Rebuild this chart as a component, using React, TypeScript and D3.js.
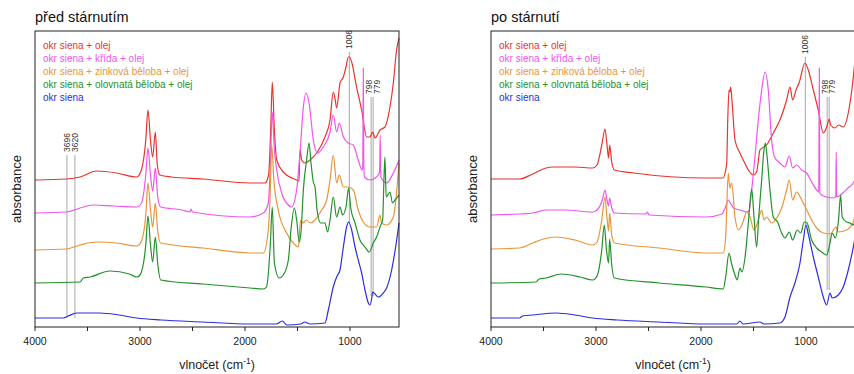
import React from "react";
import * as d3 from "d3";

type Pt = [number, number];

// Legend entries and their colours (same order in both panels)
const seriesNames = [
  "okr siena + olej",
  "okr siena + křída + olej",
  "okr siena + zinková běloba + olej",
  "okr siena + olovnatá běloba + olej",
  "okr siena",
];
const seriesColors = ["#e8352c", "#f055ee", "#e8953a", "#22922a", "#2a2ee0"];

const panelTitles = ["před stárnutím", "po stárnutí"];

// IR spectra, [wavenumber cm-1, absorbance (offset)] — before ageing
const beforeOil: Pt[] = [
  [4000, 1.47], [3698, 1.48], [3571, 1.5], [3413, 1.56], [3222, 1.54], [3032, 1.5], [2990, 1.56],
  [2945, 1.87], [2924, 2.17], [2900, 1.87], [2879, 1.7], [2854, 1.95], [2835, 1.62], [2810, 1.52],
  [2700, 1.5], [2400, 1.48], [1952, 1.44], [1810, 1.44], [1775, 1.52], [1755, 1.97], [1740, 2.45],
  [1720, 1.97], [1698, 1.67], [1635, 1.55], [1508, 1.47], [1486, 1.46], [1476, 1.77], [1460, 1.67],
  [1429, 1.64], [1381, 1.67], [1317, 1.74], [1238, 1.9], [1190, 2.07], [1159, 2.35], [1140, 2.27],
  [1127, 2.19], [1095, 2.44], [1063, 2.5], [1040, 2.59], [1016, 2.7], [1006, 2.7], [984, 2.65],
  [937, 2.4], [889, 2.17], [841, 1.9], [810, 1.9], [784, 1.95], [762, 1.89], [714, 1.97],
  [667, 2.0], [619, 2.2], [587, 2.44], [556, 2.77], [533, 2.89],
];
const beforeChalk: Pt[] = [
  [4000, 1.14], [3698, 1.15], [3571, 1.19], [3444, 1.22], [3250, 1.21], [3032, 1.2], [2990, 1.23],
  [2945, 1.52], [2924, 1.79], [2900, 1.52], [2879, 1.36], [2854, 1.59], [2830, 1.29], [2803, 1.2],
  [2600, 1.17], [2524, 1.15], [2514, 1.18], [2500, 1.15], [1952, 1.1], [1825, 1.14], [1778, 1.24],
  [1760, 1.57], [1740, 2.15], [1720, 1.77], [1698, 1.57], [1651, 1.34], [1587, 1.22], [1556, 1.2],
  [1508, 1.37], [1476, 1.74], [1444, 2.2], [1419, 2.34], [1387, 2.22], [1349, 1.87], [1311, 1.74],
  [1254, 1.8], [1190, 1.95], [1159, 2.12], [1127, 1.95], [1102, 2.04], [1063, 1.9], [1016, 1.84],
  [968, 1.82], [921, 1.67], [885, 1.57], [878, 1.6], [873, 2.59], [868, 1.6], [862, 1.5],
  [810, 1.47], [746, 1.5], [718, 1.55], [712, 1.92], [706, 1.5], [651, 1.44], [587, 1.54],
  [533, 1.67],
];
const beforeZinc: Pt[] = [
  [4000, 0.77], [3698, 0.78], [3571, 0.82], [3413, 0.85], [3222, 0.84], [3032, 0.81], [2990, 0.85],
  [2945, 1.12], [2924, 1.44], [2900, 1.17], [2879, 1.0], [2854, 1.24], [2830, 0.95], [2803, 0.84],
  [2400, 0.79], [1952, 0.74], [1825, 0.74], [1778, 0.97], [1760, 1.32], [1746, 1.82], [1725, 1.47],
  [1683, 1.17], [1603, 0.94], [1540, 0.84], [1492, 0.8], [1470, 1.07], [1450, 1.04], [1413, 1.07],
  [1380, 1.04], [1333, 1.07], [1270, 1.17], [1222, 1.27], [1190, 1.47], [1159, 1.72], [1127, 1.44],
  [1102, 1.52], [1063, 1.4], [1016, 1.4], [968, 1.37], [921, 1.17], [873, 1.05], [810, 1.0],
  [746, 1.0], [714, 1.12], [700, 1.04], [651, 1.02], [587, 1.1], [560, 1.3], [533, 1.64],
];
const beforeLead: Pt[] = [
  [4000, 0.44], [3571, 0.45], [3540, 0.49], [3476, 0.5], [3286, 0.56], [3100, 0.53], [3032, 0.5],
  [3000, 0.52], [2945, 0.82], [2924, 1.11], [2900, 0.82], [2879, 0.65], [2854, 0.9], [2830, 0.62],
  [2803, 0.47], [2400, 0.43], [1952, 0.39], [1825, 0.38], [1795, 0.4], [1760, 0.8], [1740, 1.2],
  [1720, 0.64], [1673, 0.49], [1635, 0.52], [1587, 0.67], [1562, 0.97], [1530, 1.19], [1508, 1.07],
  [1483, 0.85], [1465, 0.97], [1444, 1.37], [1413, 1.67], [1390, 1.84], [1371, 1.64], [1349, 1.45],
  [1333, 1.4], [1311, 1.15], [1279, 1.04], [1238, 1.04], [1213, 0.95], [1190, 1.07], [1159, 1.3],
  [1127, 1.1], [1095, 1.2], [1070, 1.12], [1038, 1.2], [1013, 1.39], [994, 1.2], [952, 1.04],
  [905, 0.87], [857, 0.8], [816, 0.75], [778, 0.84], [746, 0.9], [714, 1.0], [689, 1.07],
  [675, 1.52], [667, 1.7], [655, 1.3], [619, 1.35], [595, 1.24], [570, 1.27], [533, 1.32],
];
const beforeOchre: Pt[] = [
  [4000, 0.09], [3730, 0.09], [3683, 0.11], [3603, 0.14], [3381, 0.14], [3200, 0.12], [3032, 0.09],
  [2800, 0.07], [2400, 0.05], [1952, 0.03], [1700, 0.03], [1645, 0.06], [1600, 0.02], [1470, 0.03],
  [1429, 0.05], [1381, 0.03], [1238, 0.04], [1206, 0.17], [1159, 0.4], [1127, 0.5], [1095, 0.57],
  [1063, 0.8], [1032, 1.0], [1013, 1.05], [984, 0.97], [952, 0.8], [921, 0.67], [889, 0.54],
  [857, 0.37], [825, 0.24], [810, 0.22], [795, 0.27], [784, 0.35], [770, 0.34], [730, 0.3],
  [683, 0.34], [651, 0.39], [603, 0.57], [565, 0.8], [533, 1.04],
];

// IR spectra after ageing
const afterOil: Pt[] = [
  [4000, 1.48], [3730, 1.48], [3603, 1.53], [3476, 1.59], [3413, 1.6], [3200, 1.6], [3032, 1.59],
  [2990, 1.62], [2945, 1.82], [2914, 1.98], [2895, 1.82], [2880, 1.69], [2870, 1.82], [2850, 1.65],
  [2825, 1.57], [2640, 1.54], [1952, 1.49], [1788, 1.49], [1765, 1.57], [1755, 1.64], [1745, 2.07],
  [1733, 2.37], [1725, 2.35], [1717, 2.4], [1705, 2.27], [1676, 1.87], [1629, 1.74], [1597, 1.67],
  [1549, 1.57], [1502, 1.52], [1470, 1.55], [1438, 1.77], [1375, 1.82], [1311, 1.94], [1248, 2.07],
  [1184, 2.27], [1152, 2.4], [1127, 2.27], [1095, 2.37], [1063, 2.45], [1010, 2.64], [978, 2.57],
  [930, 2.37], [883, 2.17], [835, 1.94], [803, 2.0], [778, 2.08], [765, 2.02], [724, 1.99],
  [690, 2.02], [645, 2.0], [597, 2.14], [549, 2.5], [533, 2.67],
];
const afterChalk: Pt[] = [
  [4000, 1.12], [3730, 1.13], [3603, 1.14], [3476, 1.17], [3300, 1.17], [3032, 1.15], [2990, 1.17],
  [2940, 1.27], [2914, 1.37], [2895, 1.27], [2880, 1.21], [2870, 1.29], [2850, 1.19], [2825, 1.14],
  [2524, 1.13], [2510, 1.15], [2495, 1.12], [1952, 1.1], [1800, 1.13], [1770, 1.19], [1740, 1.27],
  [1720, 1.24], [1690, 1.19], [1629, 1.17], [1565, 1.15], [1540, 1.17], [1517, 1.37], [1486, 1.7],
  [1454, 2.07], [1422, 2.37], [1390, 2.55], [1359, 2.37], [1327, 1.87], [1300, 1.7], [1248, 1.64],
  [1200, 1.6], [1159, 1.71], [1127, 1.59], [1089, 1.62], [1041, 1.57], [993, 1.54], [946, 1.45],
  [898, 1.37], [878, 1.35], [873, 2.59], [868, 1.34], [851, 1.32], [803, 1.3], [730, 1.29],
  [716, 1.31], [712, 1.75], [708, 1.3], [650, 1.34], [600, 1.39], [549, 1.44], [533, 1.47],
];
const afterZinc: Pt[] = [
  [4000, 0.78], [3730, 0.79], [3603, 0.84], [3500, 0.88], [3381, 0.9], [3200, 0.87], [3032, 0.82],
  [2990, 0.85], [2945, 1.07], [2914, 1.3], [2895, 1.09], [2880, 0.96], [2870, 1.14], [2850, 0.92],
  [2825, 0.84], [2400, 0.79], [1952, 0.74], [1788, 0.74], [1765, 0.9], [1740, 1.54], [1725, 1.39],
  [1708, 1.44], [1676, 1.1], [1644, 0.97], [1603, 1.04], [1565, 1.15], [1533, 1.1], [1495, 0.97],
  [1454, 1.07], [1422, 1.17], [1400, 1.07], [1375, 1.1], [1327, 1.04], [1279, 1.09], [1232, 1.19],
  [1184, 1.37], [1159, 1.47], [1127, 1.27], [1089, 1.35], [1041, 1.27], [993, 1.17], [946, 1.07],
  [898, 0.99], [835, 0.94], [771, 0.93], [712, 1.0], [695, 0.95], [614, 0.97], [549, 1.05],
  [533, 1.12],
];
const afterLead: Pt[] = [
  [4000, 0.44], [3571, 0.45], [3540, 0.48], [3476, 0.49], [3333, 0.53], [3150, 0.5], [3032, 0.47],
  [2990, 0.51], [2945, 0.77], [2921, 1.02], [2900, 0.77], [2880, 0.64], [2870, 0.88], [2850, 0.62],
  [2825, 0.49], [2400, 0.44], [1952, 0.4], [1788, 0.38], [1765, 0.5], [1733, 0.74], [1710, 0.64],
  [1676, 0.52], [1655, 0.47], [1629, 0.59], [1610, 0.55], [1580, 0.7], [1549, 1.04], [1517, 1.38],
  [1495, 1.1], [1470, 0.8], [1450, 1.1], [1422, 1.47], [1400, 1.77], [1387, 1.84], [1370, 1.7],
  [1343, 1.37], [1311, 1.1], [1270, 1.05], [1232, 0.94], [1200, 0.89], [1159, 0.95], [1127, 0.87],
  [1083, 0.97], [1050, 0.94], [1016, 1.05], [990, 1.04], [946, 0.87], [898, 0.79], [851, 0.75],
  [803, 0.72], [771, 0.84], [750, 0.94], [721, 0.89], [690, 1.07], [670, 1.32], [655, 1.1],
  [614, 1.05], [580, 1.04], [549, 1.02], [533, 1.05],
];
const afterOchre: Pt[] = [
  [4000, 0.09], [3730, 0.09], [3698, 0.11], [3603, 0.12], [3381, 0.14], [3200, 0.12], [3032, 0.09],
  [2800, 0.07], [2400, 0.05], [1952, 0.03], [1660, 0.03], [1629, 0.06], [1600, 0.03], [1438, 0.05],
  [1400, 0.03], [1248, 0.04], [1200, 0.1], [1152, 0.3], [1105, 0.44], [1057, 0.64], [1025, 0.87],
  [1000, 1.02], [980, 0.94], [930, 0.7], [883, 0.5], [835, 0.3], [803, 0.22], [771, 0.34],
  [750, 0.29], [692, 0.32], [645, 0.4], [597, 0.57], [549, 0.8], [533, 0.89],
];

// Marked bands: wavenumber, label, line extent in absorbance units, label shift
type Band = { wn: number; label: string; from: number; to: number; shift: number };
const beforeBands: Band[] = [
  { wn: 3696, label: "3696", from: 0.09, to: 1.72, shift: 0 },
  { wn: 3620, label: "3620", from: 0.09, to: 1.72, shift: 0 },
  { wn: 1006, label: "1006", from: 1.04, to: 2.75, shift: 0 },
  { wn: 798, label: "798", from: 0.31, to: 2.3, shift: -2 },
  { wn: 779, label: "779", from: 0.31, to: 2.3, shift: 3.5 },
];
const afterBands: Band[] = [
  { wn: 1006, label: "1006", from: 1.02, to: 2.7, shift: 0 },
  { wn: 798, label: "798", from: 0.37, to: 2.3, shift: -2 },
  { wn: 779, label: "779", from: 0.37, to: 2.3, shift: 3 },
];

const xTicks = [4000, 3500, 3000, 2500, 2000, 1500, 1000];
const xTickLabels = [4000, 3000, 2000, 1000];

const panels = [
  { title: panelTitles[0], series: [beforeOil, beforeChalk, beforeZinc, beforeLead, beforeOchre], bands: beforeBands, left: 35, bandWidth: 1.5, bandColor: "#c4c4c4" },
  { title: panelTitles[1], series: [afterOil, afterChalk, afterZinc, afterLead, afterOchre], bands: afterBands, left: 491, bandWidth: 1, bandColor: "#a8a8a8" },
];

const W = 854;
const H = 374;
const TOP = 31;
const BOTTOM = 327;
const PLOT_W = 364;
const FONT = "'Liberation Sans', Arial, Helvetica, sans-serif";

function Panel({ p }: { p: (typeof panels)[number] }) {
  const x = d3.scaleLinear().domain([4000, 533]).range([p.left, p.left + PLOT_W]);
  const y = d3.scaleLinear().domain([0, 2.96]).range([BOTTOM, TOP]);
  const line = d3
    .line<Pt>()
    .x((d) => x(d[0]))
    .y((d) => y(d[1]))
    .curve(d3.curveMonotoneX);
  const cx = p.left + PLOT_W / 2;
  return (
    <g>
      <text x={p.left} y={22} fontSize={14.5} fill="#111">{p.title}</text>
      {/* marked bands */}
      {p.bands.map((b) => {
        const thin = b.wn === 1006 || b.wn > 3000;
        return (
          <g key={b.label}>
            <line x1={x(b.wn)} x2={x(b.wn)} y1={y(b.from)} y2={y(b.to)} stroke={thin ? "#a8a8a8" : p.bandColor} strokeWidth={thin ? 1 : p.bandWidth} />
            <text
              transform={`translate(${x(b.wn) + b.shift + 3},${y(b.to) - 3}) rotate(-90)`}
              fontSize={8.5}
              fill="#333"
            >
              {b.label}
            </text>
          </g>
        );
      })}
      {/* spectra */}
      {p.series.map((s, i) => (
        <path key={i} d={line(s) ?? ""} fill="none" stroke={seriesColors[i]} strokeWidth={1.2} strokeLinejoin="round" />
      ))}
      {/* frame */}
      <rect x={p.left} y={TOP} width={PLOT_W} height={BOTTOM - TOP} fill="none" stroke="#222" strokeWidth={1} />
      {/* legend */}
      {seriesNames.map((n, i) => (
        <text key={n} x={p.left + 8} y={48.5 + i * 13} fontSize={10} fill={seriesColors[i]}>{n}</text>
      ))}
      {/* x axis */}
      {xTicks.map((t) => (
        <line key={t} x1={x(t)} x2={x(t)} y1={BOTTOM} y2={BOTTOM + 4} stroke="#222" strokeWidth={1} />
      ))}
      {xTickLabels.map((t) => (
        <text key={t} x={x(t)} y={345} fontSize={10.5} textAnchor="middle" fill="#222">{t}</text>
      ))}
      <text x={cx} y={369} fontSize={12.5} textAnchor="middle" fill="#222">
        vlnočet (cm
        <tspan fontSize={8.5} dy={-5}>-1</tspan>
        <tspan dy={5}>)</tspan>
      </text>
      <text transform={`translate(${p.left - 14.5},${189}) rotate(-90)`} fontSize={13} textAnchor="middle" fill="#222">absorbance</text>
    </g>
  );
}

export default function App() {
  return (
    <svg
      width={W}
      height={H}
      viewBox={`0 0 ${W} ${H}`}
      style={{ position: "absolute", left: 0, top: 0, display: "block", background: "#fff", fontFamily: FONT }}
    >
      <rect width={W} height={H} fill="#fff" />
      {panels.map((p, i) => (
        <Panel key={i} p={p} />
      ))}
    </svg>
  );
}
